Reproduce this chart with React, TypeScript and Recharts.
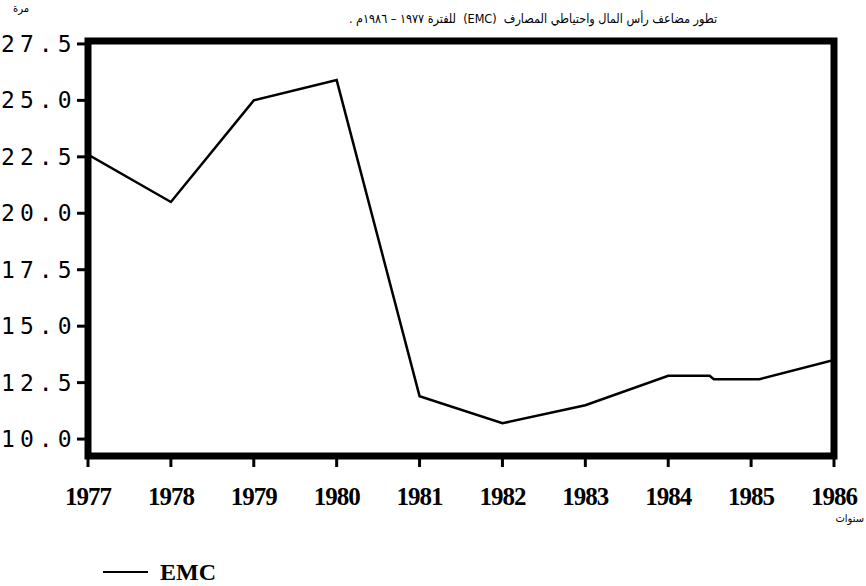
import { LineChart, Line, XAxis, YAxis, ReferenceArea } from "recharts";

// EMC multiplier (fractional years mark the kink around 1984-85)
const years = [1977, 1978, 1979, 1980, 1981, 1982, 1983, 1984, 1984.5, 1984.55, 1985.1, 1986];
const emcValues = [22.6, 20.5, 25.0, 25.9, 11.9, 10.7, 11.5, 12.8, 12.8, 12.65, 12.65, 13.5];

const yearTicks = [1977, 1978, 1979, 1980, 1981, 1982, 1983, 1984, 1985, 1986];
const valueTicks = [10, 12.5, 15, 17.5, 20, 22.5, 25, 27.5];
const yDomain: [number, number] = [9.25, 27.63];

const title = "تطور مضاعف رأس المال واحتياطي المصارف  (EMC)  للفترة ١٩٧٧ – ١٩٨٦م .";
const yUnit = "مرة";
const xUnit = "سنوات";
const seriesName = "EMC";

const data = years.map((year, i) => ({ year, EMC: emcValues[i] }));

const YearTick = (props: any) => (
  <text
    x={props.x}
    y={props.y + 36}
    textAnchor="middle"
    fontFamily="'Liberation Serif', serif"
    fontWeight="bold"
    fontSize={25}
    letterSpacing={-1}
    fill="#000"
  >
    {props.payload.value}
  </text>
);

const ValueTick = (props: any) => (
  <text
    x={props.x + 1.5}
    y={props.y}
    textAnchor="end"
    dominantBaseline="central"
    fontFamily="'DejaVu Sans Mono', monospace"
    fontSize={23}
    letterSpacing={5}
    fill="#000"
  >
    {Number(props.payload.value).toFixed(1)}
  </text>
);

export default function App() {
  return (
    <div
      style={{
        position: "absolute",
        left: 0,
        top: 0,
        width: 866,
        height: 586,
        overflow: "hidden",
        background: "#fff",
      }}
    >
      <LineChart width={866} height={586} data={data} margin={{ top: 41, right: 32, bottom: 70, left: 0 }}>
        <XAxis
          dataKey="year"
          type="number"
          domain={[1977, 1986]}
          ticks={yearTicks}
          interval={0}
          allowDataOverflow
          axisLine={false}
          tickLine={{ stroke: "#000", strokeWidth: 3 }}
          tickSize={11}
          height={60}
          tick={YearTick}
        />
        <YAxis
          type="number"
          domain={yDomain}
          ticks={valueTicks}
          interval={0}
          allowDataOverflow
          axisLine={false}
          tickLine={{ stroke: "#000", strokeWidth: 3 }}
          tickSize={11}
          width={88}
          tick={ValueTick}
        />
        <ReferenceArea
          x1={1977}
          x2={1986}
          y1={yDomain[0]}
          y2={yDomain[1]}
          fill="none"
          stroke="#000"
          strokeWidth={7}
          ifOverflow="visible"
        />
        <Line
          type="linear"
          dataKey="EMC"
          stroke="#000"
          strokeWidth={2.5}
          dot={false}
          isAnimationActive={false}
        />
      </LineChart>

      <div
        style={{
          position: "absolute",
          left: 343,
          top: 9,
          width: 380,
          textAlign: "center",
          direction: "rtl",
          whiteSpace: "pre",
          fontFamily: "'DejaVu Sans Condensed', 'DejaVu Sans', sans-serif",
          fontSize: 12.5,
          lineHeight: "20px",
        }}
      >
        {title}
      </div>
      <div
        style={{
          position: "absolute",
          left: 13,
          top: 2,
          direction: "rtl",
          fontFamily: "'DejaVu Sans Condensed', 'DejaVu Sans', sans-serif",
          fontSize: 11,
        }}
      >
        {yUnit}
      </div>
      <div
        style={{
          position: "absolute",
          right: 2,
          top: 512,
          direction: "rtl",
          fontFamily: "'DejaVu Sans Condensed', 'DejaVu Sans', sans-serif",
          fontSize: 11,
        }}
      >
        {xUnit}
      </div>

      <div style={{ position: "absolute", left: 103, top: 571, width: 45, height: 2, background: "#000" }} />
      <div
        style={{
          position: "absolute",
          left: 160,
          top: 558,
          fontFamily: "'Liberation Serif', serif",
          fontWeight: "bold",
          fontSize: 24,
          lineHeight: "28px",
        }}
      >
        {seriesName}
      </div>
    </div>
  );
}
